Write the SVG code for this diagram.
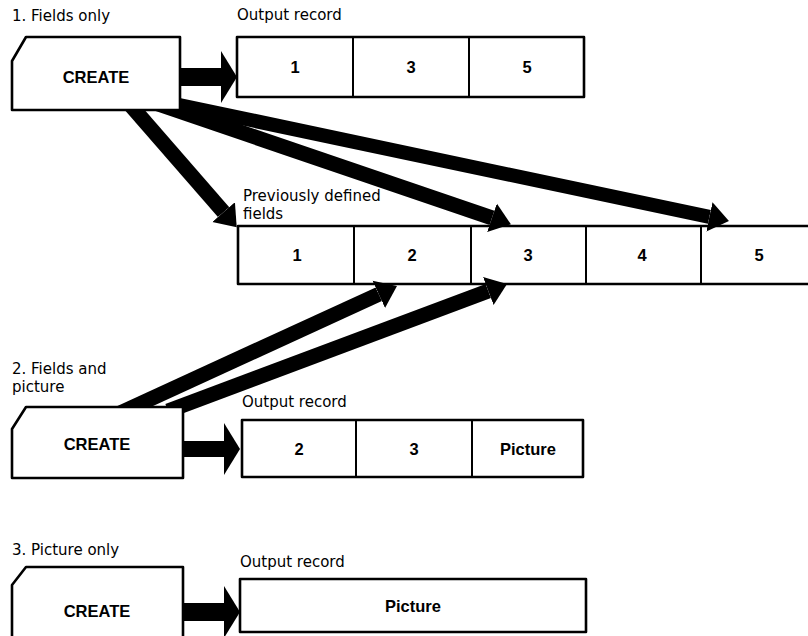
<svg xmlns="http://www.w3.org/2000/svg" width="808" height="636" viewBox="0 0 808 636">
  <style>
    .lbl { font-family: "DejaVu Sans", "Liberation Sans", sans-serif; font-size: 15px; fill: #000; }
    .cell { font-family: "Liberation Sans", Arial, sans-serif; font-size: 16.5px; font-weight: bold; fill: #000; text-anchor: middle; }
    .box { fill: #fff; stroke: #000; stroke-width: 2.6; stroke-linejoin: round; }
    .div { stroke: #000; stroke-width: 2; }
    .harrow { stroke: #000; stroke-width: 18; fill: none; marker-end: url(#hhead); }
    .darrow { stroke: #000; stroke-width: 15; fill: none; marker-end: url(#dhead); }
  </style>
  <defs>
    <marker id="hhead" markerUnits="userSpaceOnUse" markerWidth="20" markerHeight="56" viewBox="0 -28 20 56" refX="0" refY="0" orient="auto">
      <path d="M0,-26 L16,0 L0,26 Z" fill="#000"/>
    </marker>
    <marker id="dhead" markerUnits="userSpaceOnUse" markerWidth="24" markerHeight="34" viewBox="0 -17 24 34" refX="0" refY="0" orient="auto">
      <path d="M0,-15 L20,0 L0,15 Z" fill="#000"/>
    </marker>
  </defs>
  <rect width="808" height="636" fill="#fff"/>

  <!-- Section labels -->
  <g id="labels">
    <text class="lbl" x="12" y="21">1. Fields only</text>
    <text class="lbl" x="237" y="20">Output record</text>
    <text class="lbl" x="243" y="201">Previously defined</text>
    <text class="lbl" x="243" y="219">fields</text>
    <text class="lbl" x="12" y="374">2. Fields and</text>
    <text class="lbl" x="12" y="392">picture</text>
    <text class="lbl" x="242" y="407">Output record</text>
    <text class="lbl" x="12" y="555">3. Picture only</text>
    <text class="lbl" x="240" y="567">Output record</text>
  </g>

  <!-- Output record 1 -->
  <g id="record1">
    <rect class="box" x="237" y="37" width="347" height="60"/>
    <line class="div" x1="353" y1="37" x2="353" y2="97"/>
    <line class="div" x1="469" y1="37" x2="469" y2="97"/>
    <text class="cell" x="295" y="73">1</text>
    <text class="cell" x="411" y="73">3</text>
    <text class="cell" x="527" y="73">5</text>
  </g>

  <!-- Previously defined fields -->
  <g id="fields">
    <rect class="box" x="238" y="226" width="600" height="58"/>
    <line class="div" x1="354" y1="226" x2="354" y2="284"/>
    <line class="div" x1="471" y1="226" x2="471" y2="284"/>
    <line class="div" x1="586" y1="226" x2="586" y2="284"/>
    <line class="div" x1="701" y1="226" x2="701" y2="284"/>
    <text class="cell" x="297" y="261">1</text>
    <text class="cell" x="412" y="261">2</text>
    <text class="cell" x="528" y="261">3</text>
    <text class="cell" x="642" y="261">4</text>
    <text class="cell" x="759" y="261">5</text>
  </g>

  <!-- Output record 2 -->
  <g id="record2">
    <rect class="box" x="242" y="420" width="341" height="57"/>
    <line class="div" x1="356" y1="420" x2="356" y2="477"/>
    <line class="div" x1="472" y1="420" x2="472" y2="477"/>
    <text class="cell" x="299" y="455">2</text>
    <text class="cell" x="414" y="455">3</text>
    <text class="cell" x="528" y="455">Picture</text>
  </g>

  <!-- Output record 3 -->
  <g id="record3">
    <rect class="box" x="240" y="579" width="346" height="53"/>
    <text class="cell" x="413" y="612">Picture</text>
  </g>

  <!-- Connectors -->
  <g id="connectors">
    <line class="harrow" x1="175" y1="77" x2="221" y2="77"/>
    <line class="harrow" x1="178" y1="449" x2="224" y2="449" style="stroke-width:16"/>
    <line class="harrow" x1="178" y1="612" x2="224" y2="612"/>
    <line class="darrow" x1="126" y1="100" x2="223.6" y2="212.1"/>
    <line class="darrow" x1="158" y1="104" x2="492.0" y2="217.8"/>
    <line class="darrow" x1="170" y1="103" x2="709.4" y2="216.9" style="stroke-width:14"/>
    <line class="darrow" x1="120" y1="413" x2="378.8" y2="294.3"/>
    <line class="darrow" x1="168" y1="411" x2="488.3" y2="291.0"/>
  </g>

  <!-- CREATE cards -->
  <g id="create1">
    <path class="box" d="M12,61 L26,37 L180,37 L180,110 L12,110 Z"/>
    <text class="cell" x="96" y="83">CREATE</text>
  </g>
  <g id="create2">
    <path class="box" d="M12,429 L26,407 L183,407 L183,478 L12,478 Z"/>
    <text class="cell" x="97" y="450">CREATE</text>
  </g>
  <g id="create3">
    <path class="box" d="M12,585 L26,567 L183,567 L183,650 L12,650 Z"/>
    <text class="cell" x="97" y="617">CREATE</text>
  </g>
</svg>
